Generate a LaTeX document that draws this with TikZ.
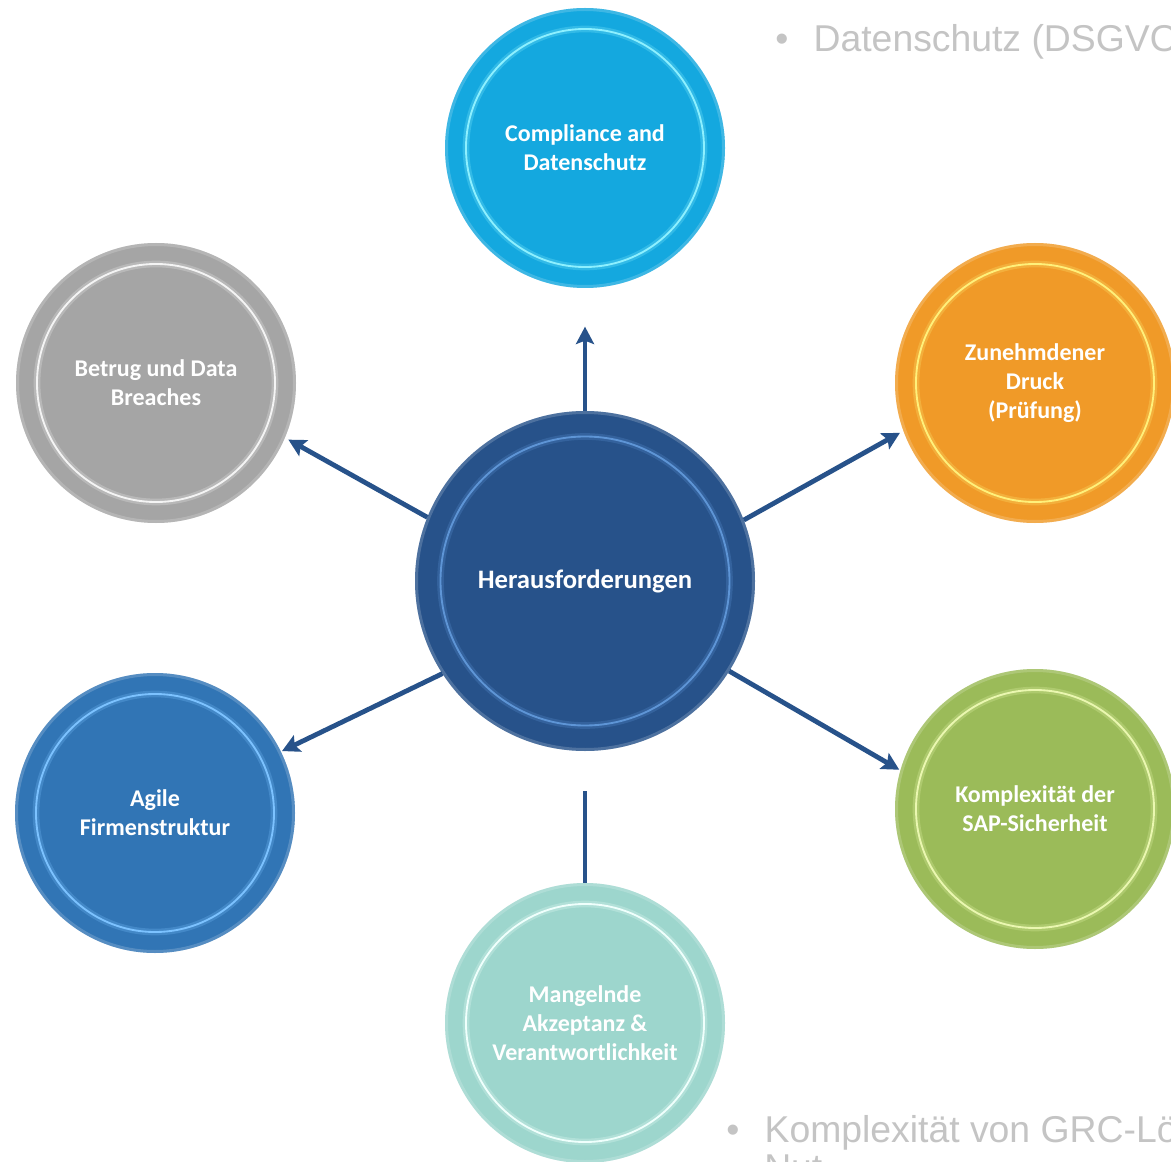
\documentclass[tikz,border=0pt]{standalone}
\usepackage{fontspec}
\setmainfont{Carlito}
\newfontfamily\arialf{Liberation Sans}
\usetikzlibrary{arrows.meta}
\definecolor{navy}{HTML}{27528A}
\definecolor{navyring}{HTML}{5E95D6}
\definecolor{cyanfill}{HTML}{14A8DF}
\definecolor{cyanring}{HTML}{8DF0FF}
\definecolor{orangefill}{HTML}{F09A28}
\definecolor{orangering}{HTML}{FFF07A}
\definecolor{greenfill}{HTML}{9BBB59}
\definecolor{greenring}{HTML}{EAF7B0}
\definecolor{tealfill}{HTML}{9DD6CD}
\definecolor{tealring}{HTML}{EFFFFC}
\definecolor{bluefill}{HTML}{3175B5}
\definecolor{bluering}{HTML}{7CC2FF}
\definecolor{grayfill}{HTML}{A5A5A5}
\definecolor{grayring}{HTML}{F4F4F4}
\definecolor{notegray}{HTML}{C4C4C4}
\tikzset{
  bubble/.style n args={3}{circle, minimum size=#3*2, inner sep=0pt, outer sep=0pt,
    fill=#1, text=white, align=center,
    font=\bfseries\fontsize{18}{21.75}\selectfont,
    path picture={
      \draw[#2, line width=5pt, opacity=0.25] (path picture bounding box.center) circle (#3*0.85);
      \draw[#2, line width=1.4pt] (path picture bounding box.center) circle (#3*0.85);
      \draw[white, line width=2.5pt, opacity=0.18] (path picture bounding box.center) circle (#3-1pt);
    }},
  link/.style={draw=navy, line width=3.6pt},
  arrowlink/.style={link, -{Stealth[length=13pt,width=13.5pt,inset=2.5pt]}},
  note/.style={anchor=base west, inner sep=0pt, text=notegray, font=\arialf\fontsize{28}{28}\selectfont}
}
\begin{document}
\begin{tikzpicture}[x=0.75pt,y=-0.75pt]
\clip (0,0) rectangle (1171,1162);
\fill[white] (0,0) rectangle (1171,1162);

\node[bubble={cyanfill}{cyanring}{105pt}] (comp) at (585,148) {Compliance and\\Datenschutz};
\node[bubble={orangefill}{orangering}{105pt}] (druck) at (1035,383) {Zunehmdener\\Druck\\(Prüfung)};
\node[bubble={greenfill}{greenring}{105pt}] (sap) at (1035,809) {Komplexität der\\SAP-Sicherheit};
\node[bubble={tealfill}{tealring}{105pt}] (akz) at (585,1023) {Mangelnde\\Akzeptanz \&\\Verantwortlichkeit};
\node[bubble={bluefill}{bluering}{105pt}] (agile) at (155,813) {Agile\\Firmenstruktur};
\node[bubble={grayfill}{grayring}{105pt}] (betrug) at (156,383) {Betrug und Data\\Breaches};
\node[bubble={navy}{navyring}{127.5pt}, font=\bfseries\fontsize{20}{23}\selectfont] (center) at (585,581) {Herausforderungen};

\draw[arrowlink, shorten >=29pt] (center.90) -- (comp.270);
\draw[arrowlink, shorten >=3pt] (center.158.6) -- (betrug.337.5);
\draw[arrowlink, shorten >=3pt] (center.21.2) -- (druck.200.3);
\draw[arrowlink, shorten >=1pt] (center.-32.8) -- (sap.164.3);
\draw[arrowlink, shorten >=1pt] (center.213) -- (agile.26);
\draw[link, shorten <=30pt] (center.270) -- (akz.90);

\node[note] (n1) at (775,52) {•\hspace{19pt}Datenschutz (DSGVO};
\node[note] (n2) at (726,1142) {•\hspace{19pt}Komplexität von GRC-Lö};
\node[note] (n3) at (764,1180) {Nut};
\end{tikzpicture}
\end{document}
